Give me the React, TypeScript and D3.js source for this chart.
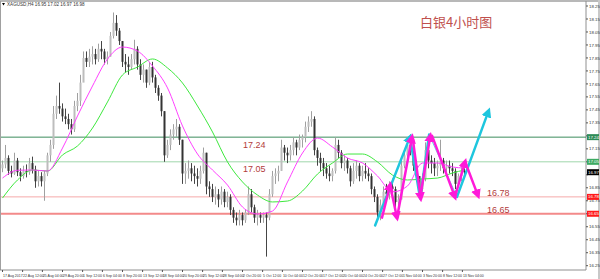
import React from 'react';
import * as d3 from 'd3';

// ---- candle data (H4 bars, aggregated) ----
const highs = [17.06,17.18,17.10,17.02,17.12,17.08,17.00,17.02,17.03,17.08,17.09,17.02,16.98,16.97,16.98,17.12,17.22,17.48,17.56,17.66,
17.50,17.46,17.42,17.38,17.52,17.58,17.72,17.90,17.90,17.92,17.94,17.92,17.96,17.98,17.92,17.90,18.05,18.20,18.18,18.08,
17.98,17.88,17.86,17.88,17.99,17.94,17.84,17.80,17.76,17.82,17.82,17.72,17.64,17.58,17.44,17.22,17.30,17.34,17.38,17.34,
17.22,17.04,17.06,17.04,17.02,17.00,17.02,17.16,17.12,16.90,16.88,16.86,16.84,16.86,16.84,16.82,16.80,16.70,16.66,16.68,
16.66,16.68,16.86,16.84,16.72,16.68,16.66,16.66,16.66,16.84,16.98,17.00,17.02,17.22,17.18,17.16,17.18,17.24,17.22,17.26,
17.26,17.36,17.40,17.44,17.40,17.16,17.12,17.08,17.04,17.02,17.00,17.24,17.22,17.14,17.10,17.08,17.02,17.04,17.06,17.04,
17.02,17.04,17.00,16.96,16.86,16.80,16.76,16.86,16.88,16.90,16.92,16.86,16.80,17.06,17.14,17.24,17.26,17.14,17.06,16.94,
16.96,17.20,17.16,17.10,17.08,17.06,17.22,17.08,17.06,17.06,17.04,17.00,16.96,17.02,17.00];
const lows = [16.97,17.00,16.95,16.93,16.95,16.94,16.90,16.92,16.93,16.95,16.96,16.85,16.86,16.86,16.75,16.94,17.05,17.15,17.38,17.42,
17.36,17.34,17.30,17.26,17.28,17.44,17.48,17.70,17.78,17.78,17.80,17.80,17.82,17.84,17.80,17.80,17.86,18.00,18.02,17.95,
17.78,17.74,17.72,17.76,17.80,17.76,17.68,17.66,17.62,17.64,17.66,17.58,17.52,17.40,17.05,17.08,17.14,17.22,17.24,17.18,
16.88,16.88,16.92,16.90,16.88,16.86,16.88,16.96,16.80,16.78,16.74,16.72,16.70,16.72,16.70,16.70,16.64,16.58,16.56,16.56,
16.56,16.58,16.64,16.66,16.58,16.56,16.58,16.58,16.32,16.60,16.78,16.88,16.90,16.98,17.06,17.04,17.06,17.10,17.10,17.14,
17.16,17.20,17.28,17.32,17.10,17.02,16.98,16.94,16.92,16.90,16.90,16.96,17.08,17.00,16.98,16.96,16.86,16.88,16.92,16.90,
16.90,16.92,16.90,16.80,16.74,16.62,16.60,16.70,16.74,16.76,16.78,16.70,16.68,16.76,17.00,17.08,17.10,16.98,16.90,16.80,
16.82,16.90,17.00,16.96,16.94,16.94,16.98,16.96,16.94,16.96,16.94,16.84,16.86,16.90,16.94];
const closes = [17.03,17.08,16.98,16.96,17.06,16.97,16.94,16.98,16.97,17.04,16.99,16.90,16.94,16.90,16.96,17.10,17.18,17.42,17.48,17.46,
17.40,17.38,17.34,17.30,17.48,17.52,17.66,17.85,17.82,17.86,17.88,17.84,17.92,17.90,17.84,17.86,18.02,18.12,18.06,17.98,
17.82,17.80,17.78,17.84,17.92,17.80,17.72,17.76,17.66,17.78,17.70,17.62,17.56,17.44,17.10,17.18,17.26,17.30,17.32,17.22,
16.96,16.98,17.00,16.96,16.94,16.92,16.98,17.12,16.86,16.84,16.78,16.80,16.76,16.82,16.74,16.78,16.68,16.62,16.60,16.64,
16.60,16.66,16.80,16.70,16.62,16.64,16.62,16.64,16.62,16.80,16.94,16.96,16.98,17.16,17.12,17.10,17.14,17.20,17.16,17.22,
17.24,17.32,17.36,17.38,17.14,17.08,17.04,17.00,16.96,16.94,16.98,17.18,17.12,17.04,17.06,17.00,16.90,16.98,17.02,16.94,
16.98,16.96,16.94,16.84,16.78,16.66,16.72,16.82,16.80,16.86,16.84,16.74,16.76,17.02,17.10,17.18,17.14,17.02,16.94,16.84,
16.92,17.14,17.06,17.04,17.00,17.02,17.06,17.00,17.02,17.00,16.98,16.88,16.94,16.98,16.97];
const firstOpen = 17.0;

// ---- moving averages (read every 5 bars) ----
const maIdx = [0,5,10,15,20,25,30,35,40,45,50,55,60,65,70,75,80,85,90,95,100,105,110,115,120,125,130,135,140,145,150,154];
const maFast = [16.925,16.985,16.987,16.979,17.156,17.403,17.634,17.842,17.934,17.903,17.788,17.619,17.326,17.110,16.987,16.871,
16.702,16.648,16.671,16.895,17.118,17.233,17.164,17.079,17.041,16.941,16.818,16.864,17.041,17.041,17.010,17.002];
const maSlow = [16.771,16.910,16.987,16.979,17.103,17.172,17.310,17.511,17.719,17.780,17.842,17.773,17.657,17.480,17.280,17.049,
16.895,16.794,16.741,16.748,16.825,16.956,17.041,17.110,17.110,17.049,16.948,16.910,16.918,16.925,16.964,16.987];

// ---- levels ----
const levelValues = [17.24, 17.05, 16.78, 16.65];
const levelLabels = ['17.24', '17.05', '16.78', '16.65'];
const currentPrice = 16.97;

// ---- axis ticks ----
const yTicks = [16.25,16.35,16.45,16.55,16.65,16.75,16.85,16.95,17.05,17.15,17.25,17.35,17.45,17.55,17.65,17.75,17.85,17.95,18.05,18.15,18.25];
const xLabels = ['17 Aug 2017','22 Aug 12:00','25 Aug 04:00','29 Aug 20:00','1 Sep 12:00','6 Sep 04:00','8 Sep 20:00','13 Sep 12:00',
'18 Sep 04:00','20 Sep 20:00','25 Sep 12:00','28 Sep 04:00','2 Oct 20:00','5 Oct 12:00','10 Oct 04:00','12 Oct 20:00',
'17 Oct 12:00','20 Oct 04:00','24 Oct 20:00','27 Oct 12:00','1 Nov 04:00','3 Nov 20:00','8 Nov 12:00','13 Nov 04:00'];
const xLabelBars = [0,6.7,13.3,20,26.7,33.3,40,46.7,53.3,60,66.7,73.3,80,86.7,93.3,100,106.7,113.3,120,126.7,133.3,140,146.7,153.3];

// ---- analyst arrows [barFrom, priceFrom, barTo, priceTo] ----
const cyanArrows: number[][] = [
  [124.2, 16.56, 135.8, 17.24],
  [135.8, 17.24, 139.2, 16.77],
  [139.2, 16.77, 142.2, 17.26],
  [151.5, 16.78, 162.0, 17.44],
];
const cyanThin: number[][] = [
  [142.2, 17.26, 151.5, 16.78],
];
const magentaArrows: number[][] = [
  [126.5, 16.62, 129.2, 16.87],
  [129.2, 16.87, 131.5, 16.62],
  [131.5, 16.62, 136.5, 17.24],
  [136.8, 17.22, 139.4, 16.77],
  [139.4, 16.80, 142.6, 17.25],
  [143.2, 17.25, 150.8, 16.78],
  [150.8, 16.78, 154.2, 17.05],
  [154.2, 17.05, 158.5, 16.79],
];

export default function App() {
  const W = 600, H = 279;
  const plotL = 1, plotR = 586, plotT = 1, plotB = 270;
  const x = d3.scaleLinear().domain([0, 154]).range([2.5, 464.5]);
  const y = d3.scaleLinear().domain([16.25, 18.25]).range([265.7, 6]);

  const line = d3.line<number>()
    .x((_, i) => x(maIdx[i]))
    .y((d) => y(d))
    .curve(d3.curveMonotoneX);

  const opens = closes.map((_, i) => (i === 0 ? firstOpen : closes[i - 1]));
  const levelColor = ['#3b8d5c', '#9fd6ab', '#f5a9a9', '#f38a8a'];
  const levelWidth = [1, 1, 1, 2];
  const boxColor = ['#2e8b57', '#3daa62', '#ff1a1a', '#ff1a1a'];
  const textColor = '#b23c3c';
  const labelPos = [[243, 148], [243, 172], [487, 196], [487, 213]];
  const boxPrices = [...levelValues, currentPrice];
  const visibleTicks = yTicks.filter((t) => boxPrices.every((b) => Math.abs(y(t) - y(b)) > 3.5));

  const arrowLine = (a: number[], color: string, w: number, marker: string | null, key: string) => (
    <line key={key} x1={x(a[0])} y1={y(a[1])} x2={x(a[2])} y2={y(a[3])}
      stroke={color} strokeWidth={w} strokeLinecap="round"
      markerEnd={marker ? `url(#${marker})` : undefined} />
  );

  return (
    <svg width={W} height={H} style={{ position: 'absolute', left: 0, top: 0, background: '#fff' }}
      fontFamily="'Liberation Sans', Arial, sans-serif">
      <defs>
        <marker id="mh" viewBox="0 0 10 10" refX="6" refY="5" markerWidth="4" markerHeight="4" orient="auto">
          <path d="M0,0 L10,5 L0,10 z" fill="#ff1ad9" />
        </marker>
        <marker id="ch" viewBox="0 0 10 10" refX="6" refY="5" markerWidth="4" markerHeight="4" orient="auto">
          <path d="M0,0 L10,5 L0,10 z" fill="#1ec6de" />
        </marker>
      </defs>
      <rect x={0} y={0} width={W} height={H} fill="#fff" />
      {/* frame */}
      <line x1={0} y1={plotT} x2={W} y2={plotT} stroke="#a0a0a0" strokeWidth={1.5} />
      <line x1={plotL - 0.5} y1={plotT} x2={plotL - 0.5} y2={plotB} stroke="#a0a0a0" strokeWidth={1} />
      <line x1={plotR} y1={plotT} x2={plotR} y2={plotB} stroke="#909090" strokeWidth={1} />
      <line x1={0} y1={plotB} x2={plotR} y2={plotB} stroke="#909090" strokeWidth={1} />
      <line x1={W - 1} y1={0} x2={W - 1} y2={H} stroke="#c8c8c8" strokeWidth={2} />

      {/* header */}
      <path d="M2,3 L5,3 L3.5,5.5 z" fill="#000" />
      <text x={7} y={6} fontSize={4.6} fill="#333">XAGUSD,H4  16.95 17.02 16.97 16.98</text>

      {/* level lines */}
      {levelValues.map((v, i) => (
        <line key={'lv' + i} x1={plotL} x2={plotR} y1={y(v)} y2={y(v)} stroke={levelColor[i]} strokeWidth={levelWidth[i]} />
      ))}

      {/* candles */}
      {closes.map((c, i) => {
        const o = opens[i];
        const up = c >= o;
        const top = y(Math.max(o, c));
        const bot = y(Math.min(o, c));
        return (
          <g key={'c' + i}>
            <line x1={x(i)} x2={x(i)} y1={y(highs[i])} y2={y(lows[i])} stroke={up ? '#a0a0a0' : '#454545'} strokeWidth={1} />
            <rect x={x(i) - 1} y={top} width={2} height={Math.max(1, bot - top)} fill={up ? '#bdbdbd' : '#333333'} />
          </g>
        );
      })}

      {/* moving averages */}
      <path d={line(maSlow) || ''} fill="none" stroke="#3ee83e" strokeWidth={1} />
      <path d={line(maFast) || ''} fill="none" stroke="#ff40ff" strokeWidth={1} />

      {/* arrows */}
      {cyanThin.map((a, i) => arrowLine(a, '#5fd6e8', 1, null, 'ct' + i))}
      {cyanArrows.map((a, i) => arrowLine(a, '#1ec6de', 2.5, i === 0 || i === 3 ? 'ch' : null, 'ca' + i))}
      {magentaArrows.map((a, i) => arrowLine(a, '#ff1ad9', 2.5, 'mh', 'ma' + i))}

      {/* annotations */}
      {levelLabels.map((t, i) => (
        <text key={'lt' + i} x={labelPos[i][0]} y={labelPos[i][1]} fontSize={9} fill={textColor}>{t}</text>
      ))}
      <text x={420} y={27} fontSize={13} fill="#c0504d" fontFamily="'Noto Sans CJK SC', sans-serif">白银4小时图</text>

      {/* right axis */}
      {yTicks.map((t) => (
        <line key={'ytl' + t} x1={plotR} x2={plotR + 2} y1={y(t)} y2={y(t)} stroke="#555" />
      ))}
      {visibleTicks.map((t) => (
        <text key={'yt' + t} x={plotR + 3} y={y(t) + 1.6} fontSize={4.4} fill="#333">{t.toFixed(2)}</text>
      ))}
      {levelValues.map((v, i) => (
        <g key={'lb' + i}>
          <rect x={plotR + 1} y={y(v) - 3} width={12} height={6} fill={boxColor[i]} />
          <text x={plotR + 2} y={y(v) + 1.6} fontSize={4.4} fill="#fff">{levelLabels[i]}</text>
        </g>
      ))}
      <rect x={plotR + 1} y={y(currentPrice) - 3} width={12} height={6} fill="#000" />
      <text x={plotR + 2} y={y(currentPrice) + 1.6} fontSize={4.4} fill="#fff">{currentPrice.toFixed(2)}</text>

      {/* bottom axis */}
      {xLabels.map((t, i) => (
        <g key={'xl' + i}>
          <line x1={x(xLabelBars[i])} x2={x(xLabelBars[i])} y1={plotB} y2={plotB + 2} stroke="#555" />
          <text x={x(xLabelBars[i]) + 0.5} y={plotB + 6.5} fontSize={3.5} fill="#333">{t}</text>
        </g>
      ))}
    </svg>
  );
}
